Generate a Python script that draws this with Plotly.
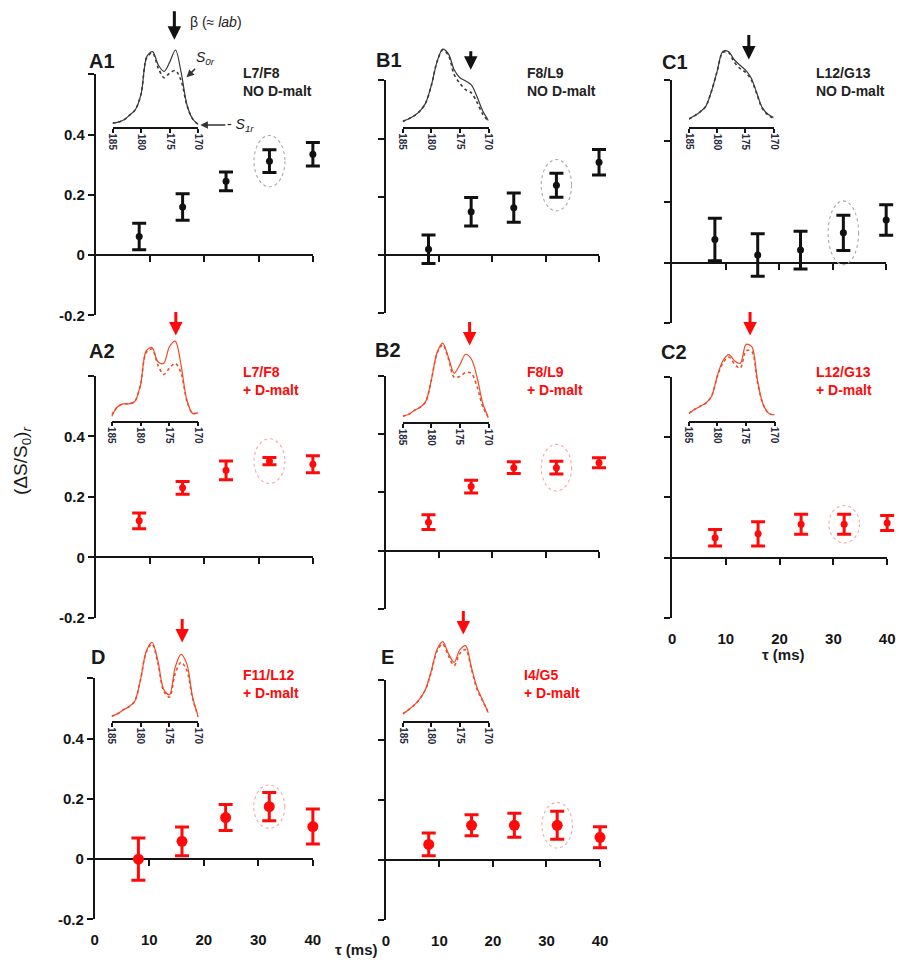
import plotly.graph_objects as go

W, H = 908, 973

# ---------------- data ----------------
tau = [8, 16, 24, 32, 40]

A1_y = [0.062, 0.160, 0.245, 0.312, 0.335]
A1_err = [0.044, 0.044, 0.031, 0.038, 0.039]
B1_y = [0.020, 0.149, 0.163, 0.240, 0.319]
B1_err = [0.049, 0.049, 0.050, 0.041, 0.044]
C1_y = [0.076, 0.025, 0.041, 0.098, 0.140]
C1_err = [0.070, 0.070, 0.062, 0.058, 0.050]
A2_y = [0.121, 0.230, 0.288, 0.318, 0.308]
A2_err = [0.026, 0.021, 0.031, 0.012, 0.028]
B2_y = [0.098, 0.220, 0.285, 0.285, 0.302]
B2_err = [0.025, 0.022, 0.020, 0.022, 0.017]
C2_y = [0.066, 0.079, 0.111, 0.111, 0.115]
C2_err = [0.027, 0.040, 0.033, 0.033, 0.025]
D_y = [0.000, 0.059, 0.138, 0.174, 0.108]
D_err = [0.070, 0.048, 0.043, 0.047, 0.058]
E_y = [0.053, 0.117, 0.117, 0.117, 0.077]
E_err = [0.038, 0.035, 0.040, 0.047, 0.035]

# inset spectra (chemical shift, ppm) and relative intensities
ppm = [185, 184, 183, 182, 181, 180, 179, 178, 177, 176, 175, 174, 173, 172, 171, 170]
ppm_ticks = [185, 180, 175, 170]

A1_S0 = [0.05, 0.06, 0.09, 0.15, 0.22, 0.42, 0.89, 0.95, 0.78, 0.70, 0.82, 0.97, 0.68, 0.28, 0.10, 0.03]
A1_S1 = [0.05, 0.06, 0.09, 0.15, 0.22, 0.42, 0.88, 0.93, 0.74, 0.62, 0.68, 0.71, 0.58, 0.27, 0.10, 0.03]
B1_S0 = [0.07, 0.10, 0.14, 0.20, 0.30, 0.52, 0.82, 0.98, 0.92, 0.72, 0.62, 0.58, 0.53, 0.38, 0.20, 0.08]
B1_S1 = [0.07, 0.10, 0.14, 0.20, 0.30, 0.52, 0.82, 0.97, 0.90, 0.66, 0.55, 0.47, 0.43, 0.31, 0.16, 0.07]
C1_S0 = [0.10, 0.14, 0.19, 0.26, 0.45, 0.70, 0.95, 0.95, 0.85, 0.78, 0.72, 0.62, 0.43, 0.24, 0.16, 0.12]
C1_S1 = [0.10, 0.14, 0.19, 0.26, 0.45, 0.70, 0.94, 0.94, 0.82, 0.74, 0.69, 0.60, 0.42, 0.23, 0.15, 0.11]
A2_S0 = [0.05, 0.17, 0.21, 0.21, 0.24, 0.45, 0.88, 0.92, 0.74, 0.72, 0.93, 1.00, 0.70, 0.26, 0.09, 0.10]
A2_S1 = [0.07, 0.17, 0.21, 0.21, 0.24, 0.45, 0.86, 0.90, 0.70, 0.58, 0.66, 0.72, 0.60, 0.25, 0.09, 0.10]
B2_S0 = [0.08, 0.10, 0.15, 0.19, 0.26, 0.53, 0.88, 1.00, 0.82, 0.62, 0.73, 0.86, 0.80, 0.57, 0.24, 0.06]
B2_S1 = [0.08, 0.10, 0.15, 0.19, 0.26, 0.53, 0.87, 0.98, 0.80, 0.57, 0.58, 0.63, 0.62, 0.45, 0.20, 0.06]
C2_S0 = [0.09, 0.14, 0.18, 0.22, 0.31, 0.57, 0.76, 0.83, 0.75, 0.72, 0.96, 0.93, 0.50, 0.20, 0.09, 0.07]
C2_S1 = [0.09, 0.14, 0.18, 0.22, 0.31, 0.56, 0.73, 0.80, 0.71, 0.66, 0.88, 0.87, 0.48, 0.20, 0.09, 0.07]
D_S0 = [0.06, 0.09, 0.14, 0.18, 0.25, 0.52, 0.88, 0.99, 0.76, 0.40, 0.33, 0.68, 0.84, 0.72, 0.30, 0.05]
D_S1 = [0.06, 0.09, 0.14, 0.18, 0.25, 0.52, 0.87, 0.97, 0.73, 0.38, 0.30, 0.60, 0.74, 0.64, 0.28, 0.05]
E_S0 = [0.09, 0.14, 0.20, 0.28, 0.40, 0.63, 0.90, 1.00, 0.85, 0.74, 0.90, 0.95, 0.68, 0.42, 0.26, 0.10]
E_S1 = [0.09, 0.14, 0.20, 0.28, 0.40, 0.62, 0.88, 0.97, 0.82, 0.70, 0.85, 0.90, 0.66, 0.40, 0.25, 0.10]

# β (≈ lab) peak arrows: (ppm, intensity level of the arrow tip)
arrow_ppm = {'A1': 174.2, 'B1': 173.1, 'C1': 174.4, 'A2': 173.9, 'B2': 173.3, 'C2': 174.3, 'D': 172.8, 'E': 174.4}
arrow_level = {'A1': 1.10, 'B1': 0.72, 'C1': 0.85, 'A2': 1.07, 'B2': 0.97, 'C2': 1.07, 'D': 0.99, 'E': 1.09}

yticks = [-0.2, 0, 0.2, 0.4, 0.6]
yticktext = ['-0.2', '0', '0.2', '0.4', '']
xticks = [0, 10, 20, 30, 40]

# ---------------- layout / style ----------------
FONT = 'Liberation Sans, Arial, sans-serif'
AX = '#151515'
BLACK = '#111111'
RED = '#ff0a0a'
SPEC_DARK = '#3a3a3a'
SPEC_RED = '#f04a28'

panels = [
    dict(key='A1', y=A1_y, err=A1_err, s0=A1_S0, s1=A1_S1, dark=True, box=(93, 313, 75, 318), ins=(110, 197, 128),
         lab=(99, 62), txt='L7/F8<br>NO D-malt', tpos=(240, 83), hh=0.085, ms=7, alen=30, ylab=True, xlab=False),
    dict(key='B1', y=B1_y, err=B1_err, s0=B1_S0, s1=B1_S1, dark=True, box=(387, 603, 81, 316), ins=(404, 491, 128),
         lab=(390, 60), txt='F8/L9<br>NO D-malt', tpos=(528, 83), hh=0.088, ms=7, alen=20, ylab=False, xlab=False),
    dict(key='C1', y=C1_y, err=C1_err, s0=C1_S0, s1=C1_S1, dark=True, box=(677, 894, 81, 326), ins=(694, 780, 128),
         lab=(680, 63), txt='L12/G13<br>NO D-malt', tpos=(821, 83), hh=0.105, ms=7, alen=26, ylab=False, xlab=False),
    dict(key='A2', y=A2_y, err=A2_err, s0=A2_S0, s1=A2_S1, dark=False, box=(93, 313, 379, 623), ins=(109, 197, 424),
         lab=(99, 354), txt='L7/F8<br>+ D-malt', tpos=(240, 384), hh=0.074, ms=7, alen=25, ylab=True, xlab=False),
    dict(key='B2', y=B2_y, err=B2_err, s0=B2_S0, s1=B2_S1, dark=False, box=(387, 603, 379, 614), ins=(404, 491, 426),
         lab=(389, 353), txt='F8/L9<br>+ D-malt', tpos=(528, 384), hh=0.080, ms=7, alen=25, ylab=False, xlab=False),
    dict(key='C2', y=C2_y, err=C2_err, s0=C2_S0, s1=C2_S1, dark=False, box=(677, 895, 380, 623), ins=(694, 781, 424),
         lab=(679, 355), txt='L12/G13<br>+ D-malt', tpos=(821, 384), hh=0.062, ms=7, alen=25, ylab=False, xlab=True),
    dict(key='D', y=D_y, err=D_err, s0=D_S0, s1=D_S1, dark=False, box=(92, 313, 684, 927), ins=(109, 197, 727),
         lab=(95, 662), txt='F11/L12<br>+ D-malt', tpos=(240, 690), hh=0.072, ms=11, alen=25, ylab=True, xlab=True),
    dict(key='E', y=E_y, err=E_err, s0=E_S0, s1=E_S1, dark=False, box=(387, 604, 686, 928), ins=(404, 491, 727),
         lab=(389, 662), txt='I4/G5<br>+ D-malt', tpos=(525, 690), hh=0.076, ms=11, alen=25, ylab=False, xlab=True),
]


def fx(px):
    return min(max(px / W, 0.0), 1.0)


def fy(py):
    return min(max(1 - py / H, 0.0), 1.0)


def axname(kind, i):
    return f'{kind}axis' if i == 1 else f'{kind}axis{i}'


def axref(kind, i):
    return kind if i == 1 else f'{kind}{i}'


def dummy(xr, yr):
    return go.Scatter(x=[None], y=[None], xaxis=xr, yaxis=yr, showlegend=False, hoverinfo='skip')


fig = go.Figure()
layout = {}
shapes = []
annotations = []
label_axis_id = 17
data_axis_id = 20
PAD = 24  # px of extra drawing room around each data panel (no clipping of caps)
tickfont = dict(family=FONT, size=15, color=AX, weight='bold')
inset_tickfont = dict(family=FONT, size=10, color='#2a2a40', weight='bold')

for n, p in enumerate(panels):
    i = n + 1
    j = n + 9
    col = BLACK if p['dark'] else RED
    scol = SPEC_DARK if p['dark'] else SPEC_RED
    x0, x1, yt, yb = p['box']
    d_lo, d_hi = fy(yb), fy(yt)
    zero_pos = d_lo + (0 - (-0.2)) / (0.6 - (-0.2)) * (d_hi - d_lo)

    layout[axname('x', i)] = dict(domain=[fx(x0), fx(x1)], range=[0, 40], anchor='free', position=zero_pos,
                                  showline=True, linecolor=AX, linewidth=2, ticks='outside', ticklen=6,
                                  tickwidth=2, tickcolor=AX, tickvals=[10, 20, 30, 40], showticklabels=False,
                                  showgrid=False, zeroline=False, fixedrange=True)
    layout[axname('y', i)] = dict(domain=[d_lo, d_hi], range=[-0.2, 0.6], anchor=axref('x', i),
                                  showline=True, linecolor=AX, linewidth=2, ticks='outside', ticklen=6,
                                  tickwidth=2, tickcolor=AX, tickvals=yticks, ticktext=yticktext,
                                  showticklabels=p['ylab'], tickfont=tickfont,
                                  showgrid=False, zeroline=False, fixedrange=True)
    fig.add_trace(dummy(axref('x', i), axref('y', i)))

    # hidden, wider data axis with identical scale so that end caps are not clipped
    di = data_axis_id
    data_axis_id += 1
    s = (x1 - x0) / 40.0
    lpad = min(PAD, x0)
    rpad = min(PAD, W - x1)
    layout[axname('x', di)] = dict(domain=[fx(x0 - lpad), fx(x1 + rpad)], range=[-lpad / s, 40 + rpad / s],
                                   anchor=axref('y', i), visible=False, fixedrange=True)
    fig.add_trace(go.Scatter(x=tau, y=p['y'], mode='markers', xaxis=axref('x', di), yaxis=axref('y', i),
                             marker=dict(size=p['ms'], color=col),
                             error_y=dict(type='data', array=p['err'], visible=True, color=col,
                                          thickness=3, width=7),
                             showlegend=False, hoverinfo='skip', cliponaxis=False))

    # circled point
    k = 3
    shapes.append(dict(type='circle', xref=axref('x', di), yref=axref('y', i),
                       x0=tau[k] - 2.85, x1=tau[k] + 2.85,
                       y0=p['y'][k] - p['hh'], y1=p['y'][k] + p['hh'],
                       line=dict(color='#a8a8a8' if p['dark'] else '#f5a8a8', width=1.1, dash='dot'),
                       layer='below'))

    # bottom tick labels (0..40) on overlaying axis
    if p['xlab']:
        li = label_axis_id
        label_axis_id += 1
        layout[axname('x', li)] = dict(overlaying=axref('x', i), anchor=axref('y', i), range=[0, 40],
                                       tickvals=xticks, ticks='outside', ticklen=7,
                                       tickcolor='rgba(0,0,0,0)', showline=False, showgrid=False,
                                       zeroline=False, tickfont=tickfont, fixedrange=True)
        fig.add_trace(dummy(axref('x', li), axref('y', i)))

    # inset spectrum
    ix0, ix1, iy = p['ins']
    layout[axname('x', j)] = dict(domain=[fx(ix0), fx(ix1)], range=[185, 170], anchor=axref('y', j),
                                  showline=True, linecolor=AX, linewidth=1.5, ticks='outside', ticklen=4,
                                  tickwidth=1.5, tickcolor=AX, tickvals=ppm_ticks, showticklabels=False,
                                  showgrid=False, zeroline=False, fixedrange=True)
    layout[axname('y', j)] = dict(domain=[fy(iy), fy(iy - 88)], range=[0, 1.1], anchor=axref('x', j),
                                  visible=False, fixedrange=True)
    fig.add_trace(go.Scatter(x=ppm, y=p['s1'], mode='lines', xaxis=axref('x', j), yaxis=axref('y', j),
                             line=dict(color=scol, width=1.6, dash='dot', shape='spline', smoothing=0.9),
                             showlegend=False, hoverinfo='skip'))
    fig.add_trace(go.Scatter(x=ppm, y=p['s0'], mode='lines', xaxis=axref('x', j), yaxis=axref('y', j),
                             line=dict(color=scol, width=1.2, shape='spline', smoothing=0.9),
                             showlegend=False, hoverinfo='skip'))
    # rotated inset tick labels (reading top-to-bottom), centred under each tick
    for v in ppm_ticks:
        annotations.append(dict(x=v, xref=axref('x', j), y=fy(iy + 15), yref='paper', text=str(v),
                                textangle=90, showarrow=False, xanchor='center', yanchor='middle',
                                font=inset_tickfont))

    # arrow marking the beta peak
    annotations.append(dict(x=arrow_ppm[p['key']], y=arrow_level[p['key']], xref=axref('x', j),
                            yref=axref('y', j), text='', showarrow=True, ax=0, ay=-p['alen'],
                            arrowhead=2, arrowsize=0.9, arrowwidth=3, arrowcolor=col))

    # panel letter
    annotations.append(dict(x=fx(p['lab'][0]), y=fy(p['lab'][1]), xref='paper', yref='paper',
                            text=p['key'], showarrow=False, xanchor='center', yanchor='middle',
                            font=dict(family=FONT, size=20, color='#1a1a1a', weight='bold')))
    # sample text
    annotations.append(dict(x=fx(p['tpos'][0]), y=fy(p['tpos'][1]), xref='paper', yref='paper',
                            text=p['txt'], showarrow=False, xanchor='left', yanchor='middle', align='left',
                            font=dict(family=FONT, size=14, color='#222222' if p['dark'] else RED,
                                      weight='bold')))

# extra annotations in A1 inset
annotations.append(dict(x=fx(186), y=fy(22), xref='paper', yref='paper', text='β (≈ <i>lab</i>)',
                        showarrow=False, xanchor='left', yanchor='middle',
                        font=dict(family=FONT, size=14, color='#222222')))
annotations.append(dict(x=fx(185), y=fy(78), xref='paper', yref='paper',
                        text='<i>S</i><sub><i>0r</i></sub>', showarrow=True, ax=19, ay=-19,
                        arrowhead=2, arrowsize=1, arrowwidth=1.5, arrowcolor='#333333',
                        font=dict(family=FONT, size=14, color='#222222')))
annotations.append(dict(x=fx(199), y=fy(126), xref='paper', yref='paper',
                        text='- <i>S</i><sub><i>1r</i></sub>', showarrow=True, ax=40, ay=0,
                        arrowhead=2, arrowsize=1, arrowwidth=1.5, arrowcolor='#333333',
                        font=dict(family=FONT, size=14, color='#222222')))

# axis titles
annotations.append(dict(x=fx(18), y=fy(465), xref='paper', yref='paper',
                        text='(ΔS/S<sub>0</sub>)<sub><i>r</i></sub>', showarrow=False, textangle=-90,
                        xanchor='center', yanchor='middle',
                        font=dict(family=FONT, size=19, color='#1a1a1a')))
for (tx, ty) in [(790, 660), (357, 957)]:
    annotations.append(dict(x=fx(tx), y=fy(ty), xref='paper', yref='paper', text='τ (ms)',
                            showarrow=False, xanchor='center', yanchor='middle',
                            font=dict(family=FONT, size=15, color='#1a1a1a', weight='bold')))

fig.update_layout(width=W, height=H, margin=dict(l=0, r=0, t=0, b=0),
                  paper_bgcolor='white', plot_bgcolor='rgba(0,0,0,0)',
                  showlegend=False, shapes=shapes, annotations=annotations,
                  font=dict(family=FONT), **layout)

fig.write_html('out.html', config={'displayModeBar': False},
               post_script="document.body.style.margin='0';")
